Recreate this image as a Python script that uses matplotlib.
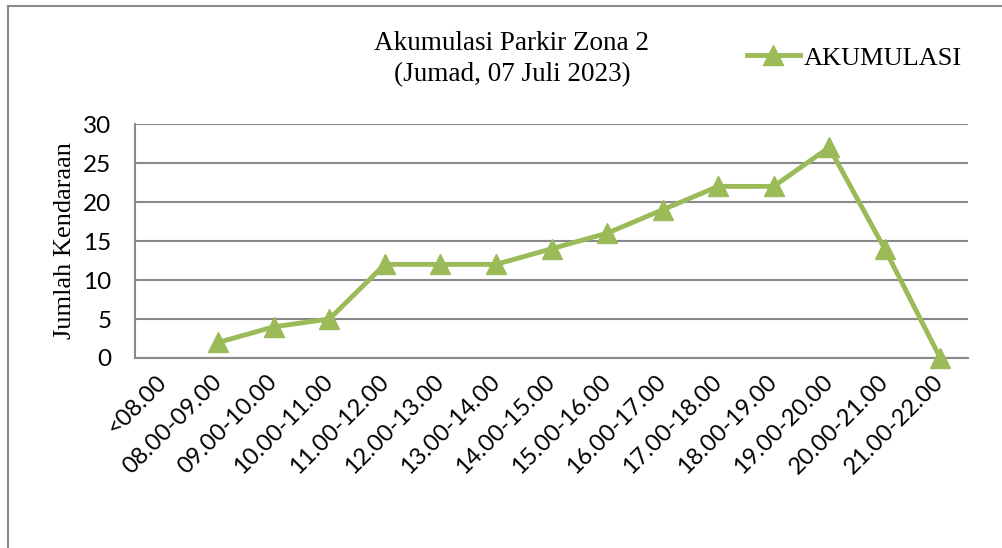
import matplotlib
matplotlib.use("Agg")
import matplotlib.pyplot as plt
from matplotlib.lines import Line2D

# data
categories = ["<08.00", "08.00-09.00", "09.00-10.00", "10.00-11.00", "11.00-12.00",
              "12.00-13.00", "13.00-14.00", "14.00-15.00", "15.00-16.00", "16.00-17.00",
              "17.00-18.00", "18.00-19.00", "19.00-20.00", "20.00-21.00", "21.00-22.00"]
akumulasi = [None, 2, 4, 5, 12, 12, 12, 14, 16, 19, 22, 22, 27, 14, 0]
y_ticks = [0, 5, 10, 15, 20, 25, 30]

GREEN = "#9BBB59"
GRID = "#898989"
SERIF = "Liberation Serif"
SANS = "Lato"

fig = plt.figure(figsize=(10.02, 5.48), dpi=100)
ax = fig.add_axes([135 / 1002, 1 - 358 / 548, 833 / 1002, 234 / 548])

xs = [i for i, v in enumerate(akumulasi) if v is not None]
ys = [v for v in akumulasi if v is not None]
ax.plot(xs, ys, color=GREEN, lw=3.5, marker="^", ms=14, mec=GREEN, mfc=GREEN,
        clip_on=False, zorder=3, label="AKUMULASI")

ax.set_xlim(-0.5, len(categories) - 0.5)
ax.set_ylim(0, 30)
ax.set_yticks(y_ticks)
ax.set_yticklabels([str(t) for t in y_ticks], fontfamily=SANS, fontsize=17.5)
ax.set_xticks(range(len(categories)))
ax.set_xticklabels(categories, fontfamily=SANS, fontsize=17, rotation=45,
                   ha="right", va="center", rotation_mode="anchor")
ax.tick_params(axis="both", length=0)
ax.tick_params(axis="y", pad=17)
ax.tick_params(axis="x", pad=15)
for lbl in ax.get_xticklabels():
    lbl.set_x(lbl.get_position()[0])

ax.yaxis.grid(True, color=GRID, lw=1.5)
ax.set_axisbelow(True)
for s in ["top", "right"]:
    ax.spines[s].set_visible(False)
for s in ["left", "bottom"]:
    ax.spines[s].set_color(GRID)
    ax.spines[s].set_linewidth(1.5)

ax.set_ylabel("Jumlah Kendaraan", fontfamily=SERIF, fontsize=19, labelpad=5)

fig.text(512 / 1002, 1 - 59 / 548, "Akumulasi Parkir Zona 2\n(Jumad, 07 Juli 2023)",
         ha="center", va="center", fontfamily=SERIF, fontsize=19.5, linespacing=1.28)

leg = fig.legend(loc="center left", bbox_to_anchor=(747 / 1002, 1 - 58 / 548),
                 frameon=False, prop={"family": SERIF, "size": 19},
                 handlelength=2.0, handletextpad=0.15, borderpad=0, borderaxespad=0)

# chart area border (only left and top visible in the crop)
fig.add_artist(Line2D([8 / 1002, 8 / 1002], [0, 1 - 6 / 548], transform=fig.transFigure,
                      color=GRID, lw=1.5))
fig.add_artist(Line2D([8 / 1002, 1], [1 - 6 / 548, 1 - 6 / 548], transform=fig.transFigure,
                      color=GRID, lw=1.5))

fig.savefig("out.png", dpi=100)
